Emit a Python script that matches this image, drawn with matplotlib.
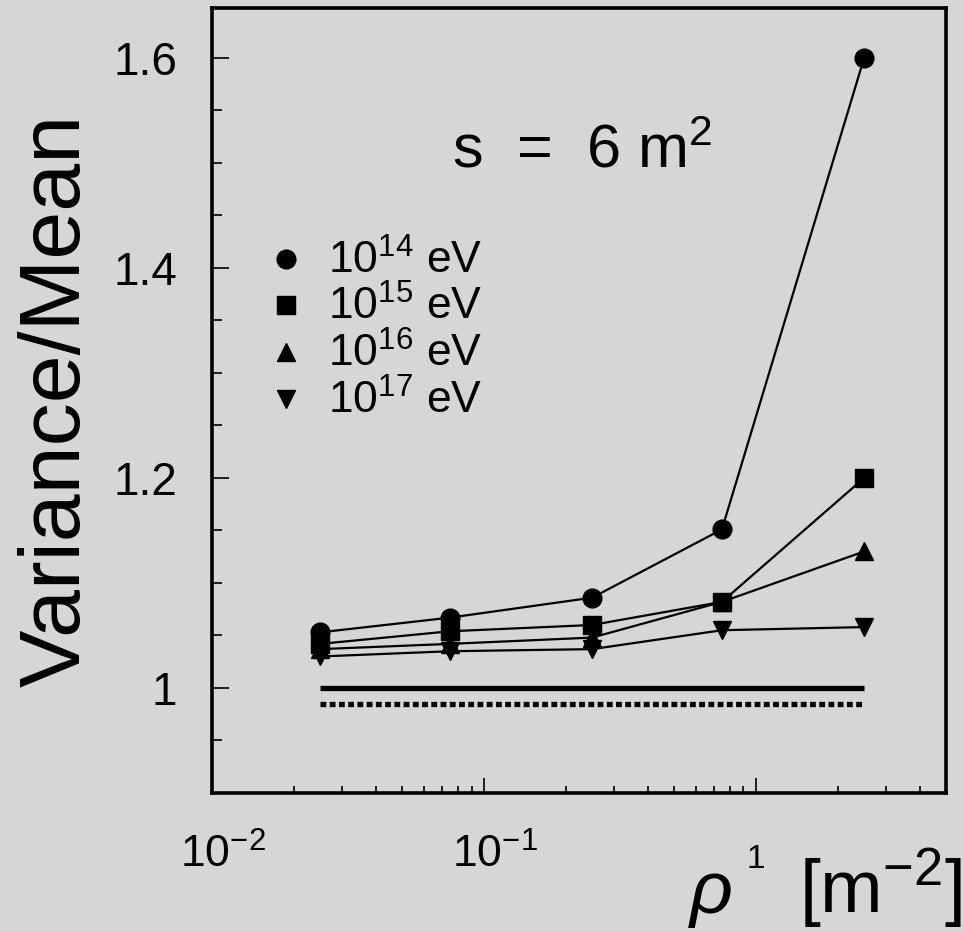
import matplotlib
matplotlib.use("Agg")
import matplotlib.pyplot as plt
import matplotlib.transforms as mtransforms
from matplotlib.ticker import MultipleLocator, LogLocator, NullFormatter

plt.rcParams['font.family'] = ['Liberation Sans', 'DejaVu Sans']
plt.rcParams['mathtext.fontset'] = 'custom'
plt.rcParams['mathtext.rm'] = 'Liberation Sans'
plt.rcParams['mathtext.it'] = 'Liberation Sans:italic'
plt.rcParams['mathtext.bf'] = 'Liberation Sans:bold'

# particle density (m^-2) and variance/mean of detector counts
rho = [0.025, 0.075, 0.25, 0.75, 2.5]
ratio_e14 = [1.053, 1.067, 1.086, 1.151, 1.600]
ratio_e15 = [1.042, 1.054, 1.060, 1.082, 1.200]
ratio_e16 = [1.037, 1.042, 1.048, 1.082, 1.130]
ratio_e17 = [1.030, 1.035, 1.037, 1.055, 1.058]
series = [ratio_e14, ratio_e15, ratio_e16, ratio_e17]
energies = ['14', '15', '16', '17']
markers = ['o', 's', '^', 'v']

poisson_level = 1.0
dashed_level = 0.985

xticks = [0.01, 0.1, 1]
xtick_labels = ['$10^{-2}$', '$10^{-1}$', '1']
yticks = [1.0, 1.2, 1.4, 1.6]
ytick_labels = ['1', '1.2', '1.4', '1.6']

W, H = 963, 931
bg = '#d6d6d6'
fig = plt.figure(figsize=(W / 100, H / 100), dpi=100)
fig.patch.set_facecolor(bg)
ax = fig.add_axes([212 / W, 1 - 793 / H, (946 - 212) / W, (793 - 8) / H])
ax.set_facecolor(bg)

for vals, m in zip(series, markers):
    ax.plot(rho, vals, marker=m, color='black', lw=1.6, ms=13.5, mec='black')

ax.plot([rho[0], rho[-1]], [poisson_level] * 2, color='black', lw=3.8,
        solid_capstyle='butt')
ax.plot([rho[0], rho[-1]], [dashed_level] * 2, color='black', lw=3.8,
        dashes=(1.1, 0.65), dash_capstyle='butt')

ax.set_xscale('log')
ax.set_xlim(0.01, 5)
ax.set_ylim(0.9, 1.6475)

ax.set_xticks(xticks, xtick_labels)
ax.xaxis.set_minor_locator(LogLocator(base=10, subs=range(2, 10)))
ax.xaxis.set_minor_formatter(NullFormatter())
ax.set_yticks(yticks, ytick_labels)
ax.yaxis.set_minor_locator(MultipleLocator(0.05))

ax.tick_params(which='both', direction='in', top=False, right=False, width=1.2)
ax.tick_params(axis='y', which='major', length=12, pad=25, labelsize=33)
ax.tick_params(axis='y', which='minor', length=7)
ax.tick_params(axis='x', which='major', length=11, pad=54, labelsize=32)
ax.tick_params(axis='x', which='minor', length=5)
nudge = mtransforms.ScaledTranslation(8 / 72, 0, fig.dpi_scale_trans)
for lab in ax.get_xticklabels():
    lab.set_va('baseline')
for lab in ax.get_xticklabels()[:2]:
    lab.set_transform(lab.get_transform() + nudge)
ax.get_xticklabels()[-1].set_fontsize(24)

for sp in ax.spines.values():
    sp.set_linewidth(2.6)

# legend drawn by hand inside the frame
row_px = [259, 305, 352, 399]
for e, m, py in zip(energies, markers, row_px):
    yy = (793 - py) / 785
    ax.plot([(286 - 212) / 734], [yy], marker=m, color='black', ms=13.5,
            transform=ax.transAxes, clip_on=False)
    ax.text((328 - 212) / 734, yy - 15 / 785, f'$10^{{{e}}}$ eV',
            transform=ax.transAxes, fontsize=32, va='baseline')

fig.text(452 / W, 1 - 167 / H, 's  =  6 m$^{2}$', fontsize=44, va='baseline')

ax.set_ylabel('Variance/Mean', fontsize=62, va='center')
ax.yaxis.set_label_coords((58 - 212) / 734, (793 - 400) / 785)

# x title: unit part as the axis label, the density symbol set further left
ax.set_xlabel('[m$^{-2}$]', fontsize=54, ha='right', va='baseline')
ax.xaxis.set_label_coords((962 - 212) / 734, (793 - 913) / 785)
fig.text(688 / W, 1 - 913 / H, r'$\rho$', fontsize=54, va='baseline')

fig.savefig('out.png', dpi=100, facecolor=bg)
